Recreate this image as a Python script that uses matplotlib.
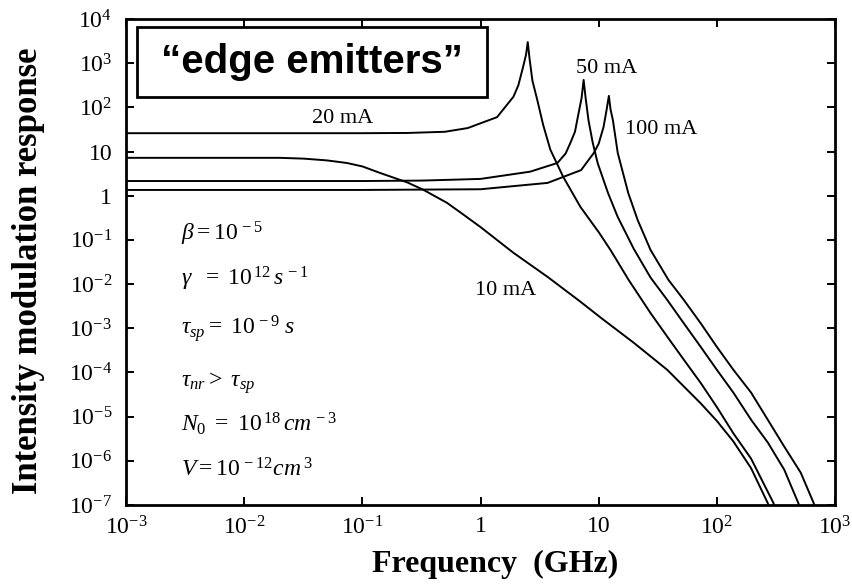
import matplotlib
matplotlib.use("Agg")
import matplotlib.pyplot as plt
from matplotlib.patches import Rectangle
from matplotlib.ticker import FixedLocator, FixedFormatter, NullLocator

plt.rcParams["font.family"] = ["Liberation Serif", "DejaVu Serif"]
plt.rcParams["mathtext.fontset"] = "custom"
plt.rcParams["mathtext.rm"] = "Liberation Serif"
plt.rcParams["mathtext.it"] = "Liberation Serif:italic"
plt.rcParams["mathtext.bf"] = "Liberation Serif:bold"

# Data (frequency in GHz, response)
freq_10 = [0.001, 0.01, 0.02, 0.032, 0.05, 0.074, 0.1, 0.14, 0.24, 0.33, 0.52, 0.72,
           1.0, 1.9, 3.7, 7.0, 10.4, 19.8, 38, 73, 100, 138, 195, 270, 290]
resp_10 = [7.2, 7.2, 7.2, 6.9, 6.3, 5.5, 4.6, 3.3, 2.0, 1.35, 0.69, 0.37,
           0.195, 0.051, 0.0145, 0.004, 1.74e-3, 4.7e-4, 1.15e-4, 2.0e-5, 8.0e-6,
           2.75e-6, 6.8e-7, 1.1e-7, 6e-8]

freq_20 = [0.001, 0.1, 0.24, 0.5, 0.78, 1.38, 1.9, 2.09, 2.29, 2.43, 2.51, 2.60,
           2.75, 3.02, 3.39, 3.9, 5.0, 7.0, 10, 12.6, 17.9, 27.5, 38, 52.5, 73,
           100, 138, 195, 302, 324]
resp_20 = [26, 26, 26.3, 28, 34, 60, 174, 316, 813, 1580, 3000, 1260,
           400, 148, 40, 11, 2.7, 0.56, 0.15, 0.059, 0.0125, 2.2e-3, 6.5e-4,
           1.95e-4, 5.8e-5, 1.65e-5, 4.2e-6, 1.12e-6, 1.1e-7, 6e-8]

freq_50 = [0.001, 0.1, 0.32, 1.0, 2.63, 4.47, 5.25, 5.75, 6.3, 6.76, 7.16, 7.46,
           7.76, 8.2, 8.9, 9.8, 12, 14.5, 19.8, 27.5, 38, 52.5, 73, 100, 138,
           195, 270, 372, 490, 525]
resp_50 = [2.15, 2.15, 2.2, 2.4, 3.5, 5.5, 9, 15.5, 28, 74, 160, 417,
           160, 51, 16, 5.5, 1.15, 0.33, 0.063, 0.014, 4.4e-3, 1.3e-3, 3.8e-4,
           1.15e-4, 3.5e-5, 8.5e-6, 2.6e-6, 6.3e-7, 1.1e-7, 6e-8]

freq_100 = [0.001, 0.1, 1.0, 3.7, 7.1, 9.1, 10, 11, 11.6, 12.2, 12.6, 13.2,
            14.5, 17.8, 21.4, 27.5, 38.9, 52.5, 73, 100, 138, 195, 270, 372,
            513, 661, 708]
resp_100 = [1.35, 1.35, 1.4, 1.95, 3.8, 9.3, 15, 36, 80, 182, 90, 51,
            9.3, 1.15, 0.28, 0.059, 0.0125, 4.4e-3, 1.3e-3, 3.8e-4, 1.15e-4,
            3.5e-5, 8.5e-6, 2.1e-6, 5.4e-7, 1.1e-7, 6e-8]

x_ticks = [1e-3, 1e-2, 1e-1, 1, 10, 1e2, 1e3]
x_labels = [r"$10^{-3}$", r"$10^{-2}$", r"$10^{-1}$", "1", "10", r"$10^{2}$", r"$10^{3}$"]
y_ticks = [1e-7, 1e-6, 1e-5, 1e-4, 1e-3, 1e-2, 1e-1, 1, 10, 1e2, 1e3, 1e4]
y_labels = [r"$10^{-7}$", r"$10^{-6}$", r"$10^{-5}$", r"$10^{-4}$", r"$10^{-3}$",
            r"$10^{-2}$", r"$10^{-1}$", "1", "10", r"$10^{2}$", r"$10^{3}$", r"$10^{4}$"]

fig = plt.figure(figsize=(8.52, 5.84), dpi=100)
ax = fig.add_axes([0.148, 0.1353, 0.832, 0.8322])

for f, r in [(freq_10, resp_10), (freq_20, resp_20), (freq_50, resp_50), (freq_100, resp_100)]:
    ax.plot(f, r, color="black", linewidth=1.4)

ax.set_xscale("log")
ax.set_yscale("log")
ax.set_xlim(1e-3, 1e3)
ax.set_ylim(1e-7, 1e4)

ax.xaxis.set_major_locator(FixedLocator(x_ticks))
ax.xaxis.set_major_formatter(FixedFormatter(x_labels))
ax.yaxis.set_major_locator(FixedLocator(y_ticks))
ax.yaxis.set_major_formatter(FixedFormatter(y_labels))
ax.xaxis.set_minor_locator(NullLocator())
ax.yaxis.set_minor_locator(NullLocator())
ax.tick_params(direction="in", length=6, width=1.4, top=True, right=True,
               labelsize=17)
ax.tick_params(axis="x", pad=8)
ax.tick_params(axis="y", pad=10)
for s in ax.spines.values():
    s.set_linewidth(2)

# curve labels
ax.text(0.068, 55, "20 mA", fontsize=16, ha="center", va="center")
ax.text(11.7, 740, "50 mA", fontsize=16, ha="center", va="center")
ax.text(34, 32, "100 mA", fontsize=16, ha="center", va="center")
ax.text(1.63, 0.0072, "10 mA", fontsize=16, ha="center", va="center")

# parameter list
params = [
    (r"$\beta = \mathit{10}^{\,-5}$", 234),
    (r"$\gamma\ \ =\ \mathit{10}^{\,12}\,s^{\,-1}$", 279),
    (r"$\tau_{sp} =\ \mathit{10}^{\,-9}\ s$", 328),
    (r"$\tau_{nr} >\ \tau_{sp}$", 383),
    (r"$N_0\ =\ \mathit{10}^{\,18}\,cm^{\,-3}$", 424),
    (r"$V = \mathit{10}^{\,-12}cm^{\,3}$", 470),
]
for txt, ypix in params:
    fig.text(181 / 852, 1 - ypix / 584, txt, fontsize=17, ha="left", va="center")

# boxed title
fig.add_artist(Rectangle((137 / 852, 1 - 97 / 584), 350 / 852, 70 / 584,
                         transform=fig.transFigure, facecolor="white",
                         edgecolor="black", linewidth=2, zorder=5))
fig.text(312 / 852, 1 - 62 / 584, "\u201cedge emitters\u201d", fontsize=29,
         fontweight="bold", family="Liberation Sans", ha="center", va="center",
         zorder=6)

fig.text(29 / 852, 1 - 271 / 584, "Intensity modulation response", fontsize=25,
         fontweight="bold", rotation=90, ha="center", va="center")
fig.text(495 / 852, 1 - 564 / 584, "Frequency  (GHz)", fontsize=23,
         fontweight="bold", ha="center", va="center")

fig.savefig("out.png", dpi=100)
